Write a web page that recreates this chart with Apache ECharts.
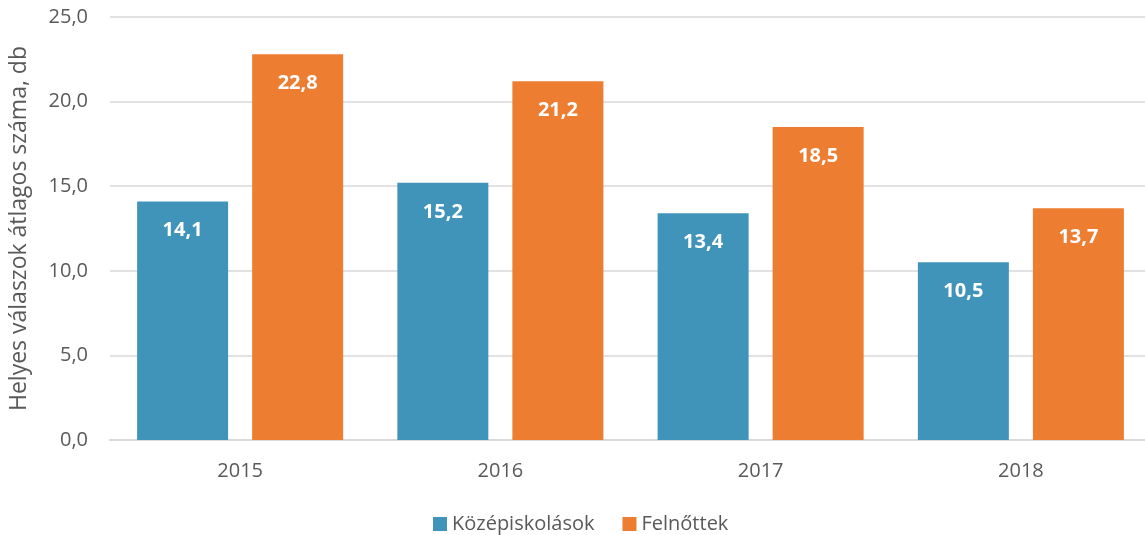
<!DOCTYPE html>
<html>
<head>
<meta charset="utf-8">
<title>Helyes válaszok</title>
<script src="https://cdn.jsdelivr.net/npm/echarts@6/dist/echarts.min.js"></script>
<style>
html, body { margin: 0; padding: 0; background: #fff; overflow: hidden; }
#main { width: 1151px; height: 535px; }
</style>
</head>
<body>
<div id="main"></div>
<script>
var years = ['2015', '2016', '2017', '2018'];
var kozepiskolasok = [14.1, 15.2, 13.4, 10.5];
var felnottek = [22.8, 21.2, 18.5, 13.7];

var fnt = '"Open Sans", "Noto Sans", sans-serif';
function huNum(v) { return v.toFixed(1).replace('.', ','); }

var chart = echarts.init(document.getElementById('main'));
chart.setOption({
  animation: false,
  textStyle: { fontFamily: fnt },
  // the plot runs a few pixels past the right edge of the window, as in the original
  grid: { left: 110, right: 0, top: 17, height: 423 },
  legend: {
    top: 509,
    left: 428,
    itemWidth: 14, itemHeight: 14, itemGap: 28,
    icon: 'rect',
    textStyle: { fontSize: 20, color: '#595959', fontFamily: fnt },
    data: ['Középiskolások', 'Felnőttek']
  },
  xAxis: {
    type: 'category',
    data: years,
    axisLine: { lineStyle: { color: '#d9d9d9', width: 2 } },
    axisTick: { show: false },
    axisLabel: { fontSize: 20, color: '#595959', margin: 21 }
  },
  yAxis: {
    type: 'value',
    min: 0, max: 25, interval: 5,
    name: 'Helyes válaszok átlagos száma, db',
    nameLocation: 'middle',
    nameGap: 79,
    nameTextStyle: { fontSize: 23, color: '#595959' },
    axisLabel: { fontSize: 20, color: '#595959', margin: 22, formatter: huNum },
    splitLine: { lineStyle: { color: '#d9d9d9', width: 1.5 } }
  },
  series: [
    {
      name: 'Középiskolások', type: 'bar', data: kozepiskolasok,
      barWidth: 91, barGap: '26.4%',
      itemStyle: { color: '#4094b9' },
      label: { show: true, position: 'insideTop', distance: 19, color: '#fff', fontWeight: 'bold', fontSize: 20, formatter: function (p) { return huNum(p.value); } }
    },
    {
      name: 'Felnőttek', type: 'bar', data: felnottek,
      barWidth: 91,
      itemStyle: { color: '#ed7d31' },
      label: { show: true, position: 'insideTop', distance: 19, color: '#fff', fontWeight: 'bold', fontSize: 20, formatter: function (p) { return huNum(p.value); } }
    }
  ]
});
</script>
</body>
</html>
